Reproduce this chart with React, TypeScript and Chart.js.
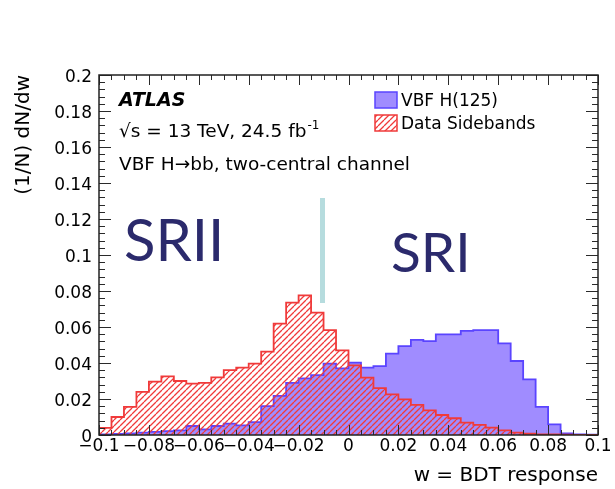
import React, { useEffect, useRef } from 'react';
import { Chart, registerables } from 'chart.js';

Chart.register(...registerables);

// Histogram bin edges (w = BDT response), 40 bins of width 0.005
const binEdges = [
  -0.1, -0.095, -0.09, -0.085, -0.08, -0.075, -0.07, -0.065, -0.06, -0.055,
  -0.05, -0.045, -0.04, -0.035, -0.03, -0.025, -0.02, -0.015, -0.01, -0.005,
  0, 0.005, 0.01, 0.015, 0.02, 0.025, 0.03, 0.035, 0.04, 0.045,
  0.05, 0.055, 0.06, 0.065, 0.07, 0.075, 0.08, 0.085, 0.09, 0.095, 0.1,
];

// VBF H(125) signal, (1/N) dN/dw per bin
const vbfSignal = [
  0.0004, 0.0006, 0.0009, 0.0013, 0.0017, 0.0022, 0.0026, 0.005, 0.0031, 0.005,
  0.0063, 0.0054, 0.0072, 0.016, 0.0217, 0.029, 0.0315, 0.0333, 0.0396, 0.037,
  0.0402, 0.0374, 0.0383, 0.0452, 0.0494, 0.0528, 0.0522, 0.0559, 0.0559, 0.0578,
  0.0583, 0.0583, 0.0509, 0.0411, 0.0309, 0.0156, 0.0059, 0.0009, 0.0003, 0.0002,
];

// Data sidebands, (1/N) dN/dw per bin
const dataSidebands = [
  0.004, 0.01, 0.0156, 0.024, 0.0296, 0.0326, 0.03, 0.0285, 0.029, 0.032,
  0.036, 0.0374, 0.0396, 0.0463, 0.0619, 0.0735, 0.0776, 0.068, 0.0583, 0.047,
  0.0387, 0.0319, 0.026, 0.0226, 0.0198, 0.0167, 0.0137, 0.0111, 0.0093, 0.0069,
  0.0056, 0.0041, 0.0026, 0.0013, 0.0007, 0.0004, 0.0003, 0.0002, 0.0001, 0.0001,
];

const xRange = [-0.1, 0.1];
const yRange = [0, 0.2];
const xStep = 0.02;
const yStep = 0.02;

const legendLabels = ['VBF H(125)', 'Data Sidebands'];
const atlasLines = ['ATLAS', '\u221As = 13 TeV, 24.5 fb', '-1', 'VBF H\u2192bb, two-central channel'];
const regionLabels = ['SRII', 'SRI'];

const FONT = '"DejaVu Sans", "Liberation Sans", sans-serif';
const BLUE_FILL = '#a08cff';
const BLUE_LINE = '#5a44ff';
const RED_LINE = '#f03a3a';

function histPoints(values: number[]) {
  const pts: { x: number; y: number }[] = [{ x: binEdges[0], y: 0 }];
  values.forEach((v, i) => {
    pts.push({ x: binEdges[i], y: v });
    pts.push({ x: binEdges[i + 1], y: v });
  });
  pts.push({ x: binEdges[binEdges.length - 1], y: 0 });
  return pts;
}

function makeHatch(color: string) {
  const c = document.createElement('canvas');
  const s = 6;
  c.width = s;
  c.height = s;
  const g = c.getContext('2d')!;
  g.strokeStyle = color;
  g.lineWidth = 1.3;
  g.beginPath();
  for (let k = -1; k <= 1; k++) {
    g.moveTo(k * s, s);
    g.lineTo(k * s + s, 0);
  }
  g.stroke();
  return g.createPattern(c, 'repeat')!;
}

function fmt(v: number) {
  const r = Math.round(v * 1000) / 1000;
  return String(r).replace('-', '\u2212');
}

const overlayPlugin = {
  id: 'atlasOverlay',
  afterDraw(chart: any) {
    const { ctx, chartArea: a, scales } = chart;
    const x = scales.x;
    const y = scales.y;
    ctx.save();

    // inner ticks on all four sides
    ctx.strokeStyle = '#2a2a2a';
    ctx.lineWidth = 1;
    ctx.beginPath();
    for (let i = 0; i <= 40; i++) {
      const px = Math.round(x.getPixelForValue(xRange[0] + i * 0.005)) + 0.5;
      const len = i % 4 === 0 ? 10 : 5;
      ctx.moveTo(px, a.bottom);
      ctx.lineTo(px, a.bottom - len);
      ctx.moveTo(px, a.top);
      ctx.lineTo(px, a.top + len);
    }
    for (let i = 0; i <= 50; i++) {
      const py = Math.round(y.getPixelForValue(i * 0.004)) + 0.5;
      const len = i % 5 === 0 ? 12 : 6;
      ctx.moveTo(a.left, py);
      ctx.lineTo(a.left + len, py);
      ctx.moveTo(a.right, py);
      ctx.lineTo(a.right - len, py);
    }
    ctx.stroke();

    // frame
    ctx.strokeStyle = '#222';
    ctx.lineWidth = 1.5;
    ctx.strokeRect(a.left, a.top, a.right - a.left, a.bottom - a.top);

    // ATLAS label
    ctx.fillStyle = '#000';
    ctx.textBaseline = 'alphabetic';
    ctx.textAlign = 'left';
    ctx.font = `italic bold 19px ${FONT}`;
    ctx.fillText(atlasLines[0], 119, 106);
    ctx.font = `18.5px ${FONT}`;
    ctx.fillText(atlasLines[1], 119, 137);
    const w1 = ctx.measureText(atlasLines[1]).width;
    ctx.font = `12px ${FONT}`;
    ctx.fillText(atlasLines[2], 119 + w1 + 1, 129);
    ctx.font = `18.5px ${FONT}`;
    ctx.fillText(atlasLines[3], 119, 170);

    // legend
    ctx.fillStyle = BLUE_FILL;
    ctx.fillRect(375, 92, 22, 16);
    ctx.strokeStyle = BLUE_LINE;
    ctx.lineWidth = 1.5;
    ctx.strokeRect(375, 92, 22, 16);
    ctx.fillStyle = makeHatch(RED_LINE);
    ctx.fillRect(375, 115, 22, 16);
    ctx.strokeStyle = RED_LINE;
    ctx.strokeRect(375, 115, 22, 16);
    ctx.fillStyle = '#000';
    ctx.font = `17px ${FONT}`;
    ctx.fillText(legendLabels[0], 401, 106);
    ctx.fillText(legendLabels[1], 401, 129);

    // region annotations
    ctx.fillStyle = '#b6dcde';
    ctx.fillRect(320, 198, 5, 105);
    ctx.fillStyle = '#2b2a6c';
    ctx.font = `58px Lato, "Open Sans", sans-serif`;
    ctx.fillText(regionLabels[0], 124, 261);
    ctx.font = `55px Lato, "Open Sans", sans-serif`;
    ctx.fillText(regionLabels[1], 391, 272);

    ctx.restore();
  },
};

export default function App() {
  const ref = useRef<HTMLCanvasElement | null>(null);

  useEffect(() => {
    const canvas = ref.current;
    if (!canvas) return;
    Chart.defaults.font.family = FONT;
    Chart.defaults.color = '#000';
    const hatch = makeHatch(RED_LINE);

    const chart = new Chart(canvas, {
      type: 'line',
      data: {
        datasets: [
          {
            label: legendLabels[1],
            data: histPoints(dataSidebands),
            borderColor: RED_LINE,
            borderWidth: 1.8,
            backgroundColor: hatch,
            fill: 'origin',
            pointRadius: 0,
            tension: 0,
          },
          {
            label: legendLabels[0],
            data: histPoints(vbfSignal),
            borderColor: BLUE_LINE,
            borderWidth: 1.8,
            backgroundColor: BLUE_FILL,
            fill: 'origin',
            pointRadius: 0,
            tension: 0,
          },
        ],
      },
      options: {
        responsive: false,
        animation: false,
        events: [],
        layout: { padding: { top: 75, right: 17, left: 0, bottom: 0 } },
        plugins: {
          legend: { display: false },
          tooltip: { enabled: false },
        },
        scales: {
          x: {
            type: 'linear',
            min: xRange[0],
            max: xRange[1],
            grid: { display: false, drawTicks: false },
            border: { display: false },
            ticks: {
              stepSize: xStep,
              autoSkip: false,
              maxRotation: 0,
              minRotation: 0,
              padding: 1,
              font: { size: 17 },
              color: '#000',
              callback: (v: any) => fmt(Number(v)),
            },
            title: {
              display: true,
              text: 'w = BDT response',
              align: 'end',
              font: { size: 20 },
              color: '#000',
              padding: { top: 0, bottom: 1 },
            },
            afterFit: (s: any) => {
              s.height = 54;
            },
          },
          y: {
            type: 'linear',
            min: yRange[0],
            max: yRange[1],
            grid: { display: false, drawTicks: false },
            border: { display: false },
            ticks: {
              stepSize: yStep,
              autoSkip: false,
              padding: 7,
              labelOffset: 3,
              font: { size: 17 },
              color: '#000',
              callback: (v: any) => fmt(Number(v)),
            },
            title: {
              display: true,
              text: '(1/N) dN/dw',
              align: 'end',
              font: { size: 20 },
              color: '#000',
              padding: { top: 12, bottom: 0 },
            },
            afterFit: (s: any) => {
              s.width = 99;
            },
          },
        },
      },
      plugins: [overlayPlugin],
    } as any);

    return () => chart.destroy();
  }, []);

  return (
    <div style={{ position: 'fixed', left: 0, top: 0, width: 615, height: 489, background: '#fff' }}>
      <canvas ref={ref} width={615} height={489} style={{ display: 'block' }} />
    </div>
  );
}
